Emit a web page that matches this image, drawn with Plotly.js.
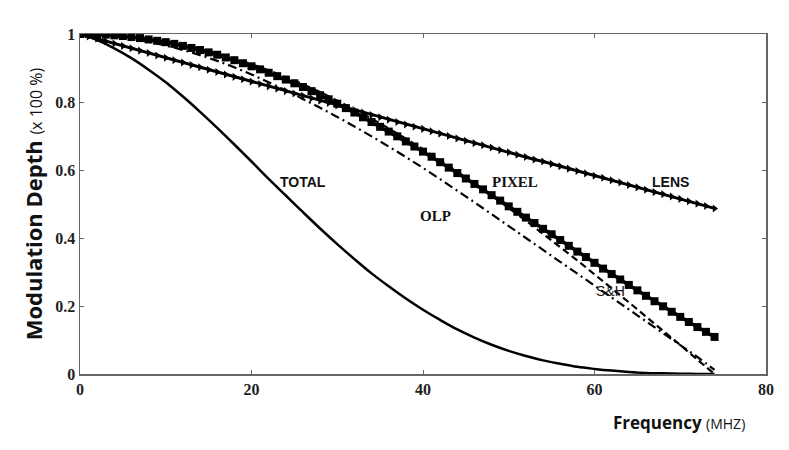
<!DOCTYPE html>
<html>
<head>
<meta charset="utf-8">
<script src="https://cdn.plot.ly/plotly-3.0.1.min.js"></script>
<style>
  html, body { margin: 0; padding: 0; background: #fff; }
  #chart { width: 789px; height: 450px; }
</style>
</head>
<body>
<div id="chart"></div>
<script>
// Frequency grids (MHz)
const freqFine = [
    0, 1, 2, 3, 4, 5, 6, 7, 8, 9, 10, 11, 12, 13, 14, 15, 16, 17, 18, 19,
    20, 21, 22, 23, 24, 25, 26, 27, 28, 29, 30, 31, 32, 33, 34, 35, 36, 37, 38, 39,
    40, 41, 42, 43, 44, 45, 46, 47, 48, 49, 50, 51, 52, 53, 54, 55, 56, 57, 58, 59,
    60, 61, 62, 63, 64, 65, 66, 67, 68, 69, 70, 71, 72, 73, 74
];
const freqCoarse = [
    0, 2, 4, 6, 8, 10, 12, 14, 16, 18, 20, 22, 24, 26, 28, 30, 32, 34, 36,
    38, 40, 42, 44, 46, 48, 50, 52, 54, 56, 58, 60, 62, 64, 66, 68, 70, 72, 74
];

// Modulation depth (x 100 %)
const lens = [
    1.000, 0.993, 0.986, 0.979, 0.972, 0.965, 0.958, 0.951, 0.944, 0.937,
    0.930, 0.923, 0.916, 0.909, 0.902, 0.895, 0.888, 0.881, 0.874, 0.867,
    0.860, 0.853, 0.846, 0.839, 0.832, 0.825, 0.818, 0.811, 0.804, 0.797,
    0.790, 0.783, 0.776, 0.769, 0.762, 0.755, 0.748, 0.741, 0.734, 0.727,
    0.721, 0.714, 0.707, 0.700, 0.693, 0.686, 0.679, 0.673, 0.666, 0.659,
    0.652, 0.645, 0.638, 0.631, 0.625, 0.618, 0.611, 0.604, 0.597, 0.590,
    0.583, 0.577, 0.570, 0.563, 0.556, 0.549, 0.542, 0.535, 0.529, 0.522,
    0.515, 0.508, 0.501, 0.494, 0.487
];
const pixel = [
    1.000, 1.000, 0.999, 0.998, 0.996, 0.994, 0.991, 0.988, 0.984, 0.980,
    0.976, 0.971, 0.965, 0.959, 0.953, 0.946, 0.939, 0.931, 0.923, 0.914,
    0.905, 0.896, 0.886, 0.876, 0.866, 0.855, 0.844, 0.832, 0.820, 0.808,
    0.795, 0.782, 0.769, 0.755, 0.741, 0.727, 0.713, 0.699, 0.684, 0.669,
    0.654, 0.639, 0.623, 0.607, 0.591, 0.575, 0.559, 0.543, 0.526, 0.510,
    0.493, 0.477, 0.460, 0.444, 0.427, 0.411, 0.394, 0.377, 0.360, 0.344,
    0.327, 0.310, 0.294, 0.278, 0.262, 0.246, 0.230, 0.214, 0.199, 0.183,
    0.168, 0.153, 0.138, 0.124, 0.109
];
const olp = [
    1.000, 0.998, 0.993, 0.986, 0.977, 0.966, 0.953, 0.938, 0.921, 0.902,
    0.881, 0.858, 0.834, 0.809, 0.783, 0.756, 0.728, 0.699, 0.669, 0.638,
    0.606, 0.573, 0.539, 0.505, 0.470, 0.435, 0.400, 0.365, 0.330, 0.295,
    0.260, 0.225, 0.190, 0.155, 0.120, 0.085, 0.050, 0.012
];
const sampleHold = [
    1.000, 0.999, 0.996, 0.992, 0.986, 0.978, 0.968, 0.956, 0.943, 0.928,
    0.911, 0.893, 0.873, 0.852, 0.829, 0.804, 0.778, 0.751, 0.722, 0.692,
    0.661, 0.628, 0.595, 0.560, 0.525, 0.488, 0.451, 0.412, 0.373, 0.334,
    0.293, 0.252, 0.211, 0.169, 0.127, 0.085, 0.042, 0.000
];
const total = [
    1.000, 0.982, 0.958, 0.929, 0.895, 0.858, 0.816, 0.771, 0.724, 0.675,
    0.625, 0.574, 0.525, 0.476, 0.428, 0.382, 0.338, 0.296, 0.258, 0.222,
    0.189, 0.159, 0.131, 0.107, 0.086, 0.068, 0.053, 0.040, 0.030, 0.021,
    0.015, 0.010, 0.006, 0.003, 0.002, 0.001, 0.000, 0.000
];

const xTicks = [0, 20, 40, 60, 80];
const yTicks = [0, 0.2, 0.4, 0.6, 0.8, 1];

// Curve labels placed inside the plot
const labels = [
    { text: '<b>TOTAL</b>', x: 26.0, y: 0.566, family: 'Liberation Sans', size: 14 },
    { text: '<b>PIXEL</b>', x: 50.7, y: 0.566, family: 'Liberation Serif', size: 15 },
    { text: '<b>OLP</b>', x: 41.4, y: 0.466, family: 'Liberation Serif', size: 15 },
    { text: 'S&amp;H', x: 61.9, y: 0.243, family: 'Liberation Sans', size: 14 },
    { text: '<b>LENS</b>', x: 68.9, y: 0.566, family: 'Liberation Sans', size: 14 }
];

const traces = [
    {
        x: freqCoarse, y: total,
        mode: 'lines',
        name: 'TOTAL',
        line: { color: '#000', width: 2.5, shape: 'spline' }
    },
    {
        x: freqCoarse, y: olp,
        mode: 'lines',
        name: 'OLP',
        line: { color: '#000', width: 2.2, dash: '9px,4px,2px,4px', shape: 'spline' }
    },
    {
        x: freqCoarse, y: sampleHold,
        mode: 'lines',
        name: 'S&H',
        line: { color: '#000', width: 2.2, dash: '7px,4px', shape: 'spline' }
    },
    {
        x: freqFine, y: pixel,
        mode: 'lines+markers',
        name: 'PIXEL',
        line: { color: '#000', width: 3.5 },
        marker: { symbol: 'square', size: 8, color: '#000' }
    },
    {
        x: freqFine, y: lens,
        mode: 'lines+markers',
        name: 'LENS',
        line: { color: '#000', width: 3 },
        marker: { symbol: 'triangle-right', size: 7, color: '#000' }
    }
];

const annotations = labels.map(l => ({
    x: l.x, y: l.y, xref: 'x', yref: 'y',
    xanchor: 'center', yanchor: 'middle',
    text: l.text,
    showarrow: false,
    font: { family: l.family, size: l.size, color: '#111' }
}));

// Axis titles as free annotations (x title sits right of centre)
annotations.push({
    xref: 'paper', yref: 'paper', x: -0.068, y: 0.5,
    xanchor: 'center', yanchor: 'middle',
    text: '<b>Modulation Depth</b> <span style="font-size:16px">(x 100 %)</span>',
    textangle: -90,
    showarrow: false,
    font: { family: 'Open Sans', size: 22, color: '#111' }
});
annotations.push({
    xref: 'paper', yref: 'paper', x: 0.873, y: -0.144,
    xanchor: 'center', yanchor: 'middle',
    text: '<b>Frequency</b> <span style="font-size:14px">(MHZ)</span>',
    showarrow: false,
    font: { family: 'Open Sans', size: 17, color: '#111' }
});

const axisStyle = {
    showline: true,
    linecolor: '#666',
    linewidth: 1.5,
    mirror: 'ticks',
    ticks: 'inside',
    ticklen: 4,
    tickcolor: '#666',
    showgrid: false,
    zeroline: false,
    tickfont: { family: 'Liberation Serif', size: 16, color: '#222' }
};

const layout = {
    width: 789,
    height: 450,
    paper_bgcolor: '#fff',
    plot_bgcolor: '#fff',
    margin: { l: 80, r: 23, t: 34, b: 76 },
    showlegend: false,
    xaxis: Object.assign({}, axisStyle, {
        range: [0, 80],
        tickvals: xTicks,
        ticktext: xTicks.map(v => '<b>' + v + '</b>')
    }),
    yaxis: Object.assign({}, axisStyle, {
        range: [0, 1],
        tickvals: yTicks,
        ticktext: yTicks.map(v => '<b>' + v + '</b>')
    }),
    annotations: annotations
};

Plotly.newPlot('chart', traces, layout, { displayModeBar: false, staticPlot: true });
</script>
</body>
</html>
